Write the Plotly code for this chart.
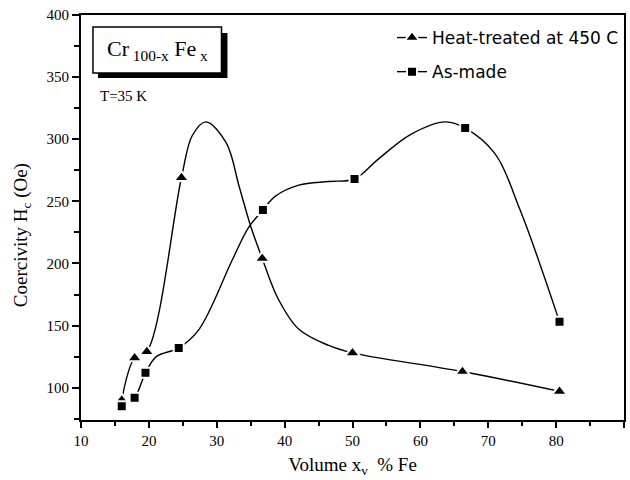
import plotly.graph_objects as go

heat_x = [16.0, 17.9, 19.7, 24.8, 36.7, 50.0, 66.2, 80.5]
heat_y = [90, 124, 129, 269, 204, 128, 113, 97]
made_x = [16.0, 17.9, 19.5, 24.4, 36.8, 50.3, 66.6, 80.5]
made_y = [85, 92, 112, 132, 243, 268, 309, 153]

# Hand-drawn guide curves
heat_curve_x = [16.0, 17.9, 19.7, 24.8, 26.4, 28.4, 31.4, 33.3, 35.0,
                36.7, 39.0, 42.1, 46.5, 50.0, 66.2, 80.5]
heat_curve_y = [90, 124, 129, 269, 303, 314, 297, 262, 230,
                204, 172, 147, 134, 128, 113, 97]
made_curve_x = [16.0, 17.9, 19.5, 21.1, 24.4, 27.4, 32.3, 34.7, 36.8, 38.6, 42.1, 46.5,
                50.3, 53.8, 58.6, 63.7, 66.6, 70.9, 74.7, 80.5]
made_curve_y = [85, 92, 112, 125, 132, 147, 203, 229, 243, 254, 263, 266,
                268, 284, 304, 314, 309, 289, 243, 153]

x_ticks = [10, 20, 30, 40, 50, 60, 70, 80, 90]
x_labels = ["10", "20", "30", "40", "50", "60", "70", "80", "90"]
y_ticks = [100, 150, 200, 250, 300, 350, 400]
y_labels = ["100", "150", "200", "250", "300", "350", "400"]

serif = "Liberation Serif"
sans = "DejaVu Sans"

line_style = dict(color="black", width=1.4, shape="spline", smoothing=1.0)
tri = dict(symbol="triangle-up", size=13, color="black", line=dict(color="white", width=2))
sq = dict(symbol="square", size=10, color="black", line=dict(color="white", width=2))

fig = go.Figure()
fig.add_trace(go.Scatter(x=heat_curve_x, y=heat_curve_y, mode="lines", line=line_style,
                         showlegend=False, hoverinfo="skip"))
fig.add_trace(go.Scatter(x=made_curve_x, y=made_curve_y, mode="lines", line=line_style,
                         showlegend=False, hoverinfo="skip"))
fig.add_trace(go.Scatter(x=heat_x, y=heat_y, mode="markers", marker=tri, showlegend=False))
fig.add_trace(go.Scatter(x=made_x, y=made_y, mode="markers", marker=sq, showlegend=False))
# legend entries
fig.add_trace(go.Scatter(x=[None], y=[None], mode="lines+markers", name="Heat-treated at 450 C",
                         line=dict(color="black", width=1.4), marker=tri, legendgroup="a"))
fig.add_trace(go.Scatter(x=[None], y=[None], mode="lines+markers", name="As-made",
                         line=dict(color="black", width=1.4), marker=sq, legendgroup="b"))

L, R, T, B = 81, 4, 15, 60
W, H = 630, 480
pw, ph = W - L - R, H - T - B

def px(x):
    return (x - L) / pw

def py(y):
    return (H - B - y) / ph

shapes = [
    dict(type="rect", xref="paper", yref="paper",
         x0=px(98), x1=px(228), y0=py(78), y1=py(33),
         fillcolor="black", line=dict(width=0)),
    dict(type="rect", xref="paper", yref="paper",
         x0=px(93), x1=px(222), y0=py(73), y1=py(27),
         fillcolor="white", line=dict(color="black", width=1.5)),
]

annotations = [
    dict(xref="paper", yref="paper", x=px(158), y=py(50), xanchor="center", yanchor="middle",
         text="Cr<sub> 100-x</sub> Fe<sub> x</sub>", showarrow=False,
         font=dict(family=serif, size=22, color="black")),
    dict(xref="paper", yref="paper", x=px(98), y=py(96), xanchor="left", yanchor="middle",
         text="T=35 K", showarrow=False,
         font=dict(family=serif, size=15, color="black")),
    dict(xref="paper", yref="paper", x=px(22), y=py(235), xanchor="center", yanchor="middle",
         text="Coercivity H<sub>c</sub> (Oe)", showarrow=False, textangle=-90,
         font=dict(family=serif, size=19, color="black")),
]

fig.update_layout(
    width=W, height=H,
    margin=dict(l=L, r=R, t=T, b=B),
    paper_bgcolor="white", plot_bgcolor="white",
    shapes=shapes, annotations=annotations,
    legend=dict(x=1.0, y=py(20), xanchor="right", yanchor="top",
                bgcolor="rgba(0,0,0,0)", tracegroupgap=9,
                font=dict(family=sans, size=17, color="black")),
    xaxis=dict(range=[10, 90], tickvals=x_ticks, ticktext=x_labels,
               showgrid=False, zeroline=False, showline=True, linecolor="black",
               linewidth=2, mirror=True, ticks="outside", ticklen=6, tickwidth=1.5,
               tickcolor="black",
               minor=dict(dtick=5, ticks="outside", ticklen=4, tickcolor="black"),
               tickfont=dict(family=serif, size=15, color="black"),
               title=dict(text="Volume x<sub>v</sub>  % Fe", standoff=10,
                          font=dict(family=serif, size=19, color="black"))),
    yaxis=dict(range=[74, 400], tickvals=y_ticks, ticktext=y_labels,
               showgrid=False, zeroline=False, showline=True, linecolor="black",
               linewidth=2, mirror=True, ticks="outside", ticklen=7, tickwidth=1.5,
               tickcolor="black",
               minor=dict(tickvals=[75, 125, 175, 225, 275, 325, 375], ticks="outside",
                          ticklen=5, tickcolor="black"),
               tickfont=dict(family=serif, size=15, color="black")),
)

fig.write_html("out.html")
